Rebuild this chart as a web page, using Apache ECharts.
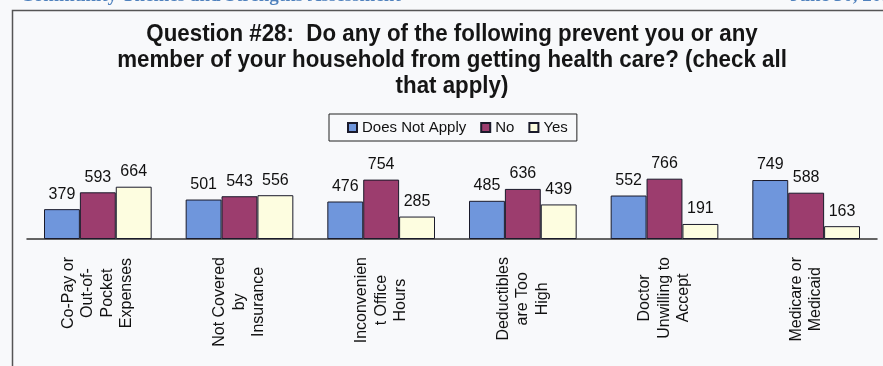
<!DOCTYPE html>
<html>
<head>
<meta charset="utf-8">
<script src="https://cdn.jsdelivr.net/npm/echarts@6/dist/echarts.min.js"></script>
<style>
html,body{margin:0;padding:0;background:#f8f9fb;}
#chart{width:883px;height:366px;}
</style>
</head>
<body>
<div id="chart"></div>
<script>
const categories = [
  "Co-Pay or\nOut-of-\nPocket\nExpenses",
  "Not Covered\nby\nInsurance",
  "Inconvenien\nt Office\nHours",
  "Deductibles\nare Too\nHigh",
  "Doctor\nUnwilling to\nAccept",
  "Medicare or\nMedicaid"
];
const seriesNames = ["Does Not Apply", "No", "Yes"];
const doesNotApply = [379, 501, 476, 485, 552, 749];
const no = [593, 543, 754, 636, 766, 588];
const yes = [664, 556, 285, 439, 191, 163];
const titleText = "Question #28:  Do any of the following prevent you or any\nmember of your household from getting health care? (check all\nthat apply)";
const headerLeft = "Community Themes and Strengths Assessment";
const headerRight = "June 30, 2011";

const colors = ["#6f96dc", "#9c3d6e", "#fdfde0"];
const values = [doesNotApply, no, yes];

const sans = "'Liberation Sans', Arial, sans-serif";
const catFont = "16px 'Liberation Sans', Arial, sans-serif";
const catLineHeight = 19.5;
const catMargin = 18;

// measure the longest line of each category label (used to place rotated, centred label blocks)
const ctx = document.createElement('canvas').getContext('2d');
ctx.font = catFont;
const labelMaxWidths = categories.map(function (cat) {
  return Math.max.apply(null, cat.split('\n').map(function (s) { return ctx.measureText(s).width; }));
});

const chart = echarts.init(document.getElementById('chart'), null, {renderer: 'canvas'});

const barSeries = seriesNames.map(function (name, i) {
  return {
    name: name,
    type: 'bar',
    data: values[i],
    barGap: '0%',
    barCategoryGap: '24%',
    itemStyle: {color: colors[i], borderColor: '#1a1a2a', borderWidth: 1},
    label: {
      show: true, position: 'top', distance: 7,
      fontFamily: sans, fontSize: 16, color: '#111'
    }
  };
});

const labelSeries = {
  name: 'categoryLabels',
  type: 'custom',
  clip: false,
  silent: true,
  data: categories.map(function (c, i) { return [i, 0]; }),
  renderItem: function (params, api) {
    const idx = api.value(0);
    const p = api.coord([idx, 0]);
    return {
      type: 'text',
      x: p[0],
      y: p[1] + catMargin + labelMaxWidths[idx] / 2,
      rotation: Math.PI / 2,
      style: {
        text: categories[idx],
        font: catFont,
        lineHeight: catLineHeight,
        align: 'center',
        verticalAlign: 'middle',
        fill: '#111'
      }
    };
  }
};

const option = {
  backgroundColor: '#f8f9fb',
  animation: false,
  legend: {
    data: seriesNames,
    left: 329,
    top: 114,
    icon: 'rect',
    itemWidth: 9,
    itemHeight: 9,
    itemGap: 14,
    padding: [6, 9, 6, 18],
    borderColor: '#222',
    borderWidth: 1,
    textStyle: {fontFamily: sans, fontSize: 15, color: '#111'}
  },
  graphic: [
    {type: 'rect', left: 10, top: 8, shape: {width: 900, height: 400},
     style: {fill: 'none', stroke: '#555', lineWidth: 1.5}, silent: true},
    {type: 'text', left: 20, top: -13,
     style: {text: headerLeft, font: "bold 19px 'Liberation Serif', serif", fill: '#4f81bd'}},
    {type: 'text', left: 790, top: -13,
     style: {text: headerRight, font: "bold 19px 'Liberation Serif', serif", fill: '#4f81bd'}},
    {type: 'text', x: 452, y: 21, scaleX: 0.93, originX: 0,
     style: {text: titleText, font: "bold 24px 'Liberation Sans', Arial, sans-serif",
             lineHeight: 26, textAlign: 'center', textVerticalAlign: 'top', fill: '#151515'}}
  ],
  grid: {left: 27, right: 6, top: 176, bottom: 127, containLabel: false},
  xAxis: {
    type: 'category',
    data: categories,
    axisTick: {show: false},
    axisLine: {lineStyle: {color: '#333', width: 1.5}},
    axisLabel: {show: false}
  },
  yAxis: {
    type: 'value', min: 0, max: 800, show: false,
    splitLine: {show: false}
  },
  series: barSeries.concat([labelSeries])
};
chart.setOption(option);
</script>
</body>
</html>
